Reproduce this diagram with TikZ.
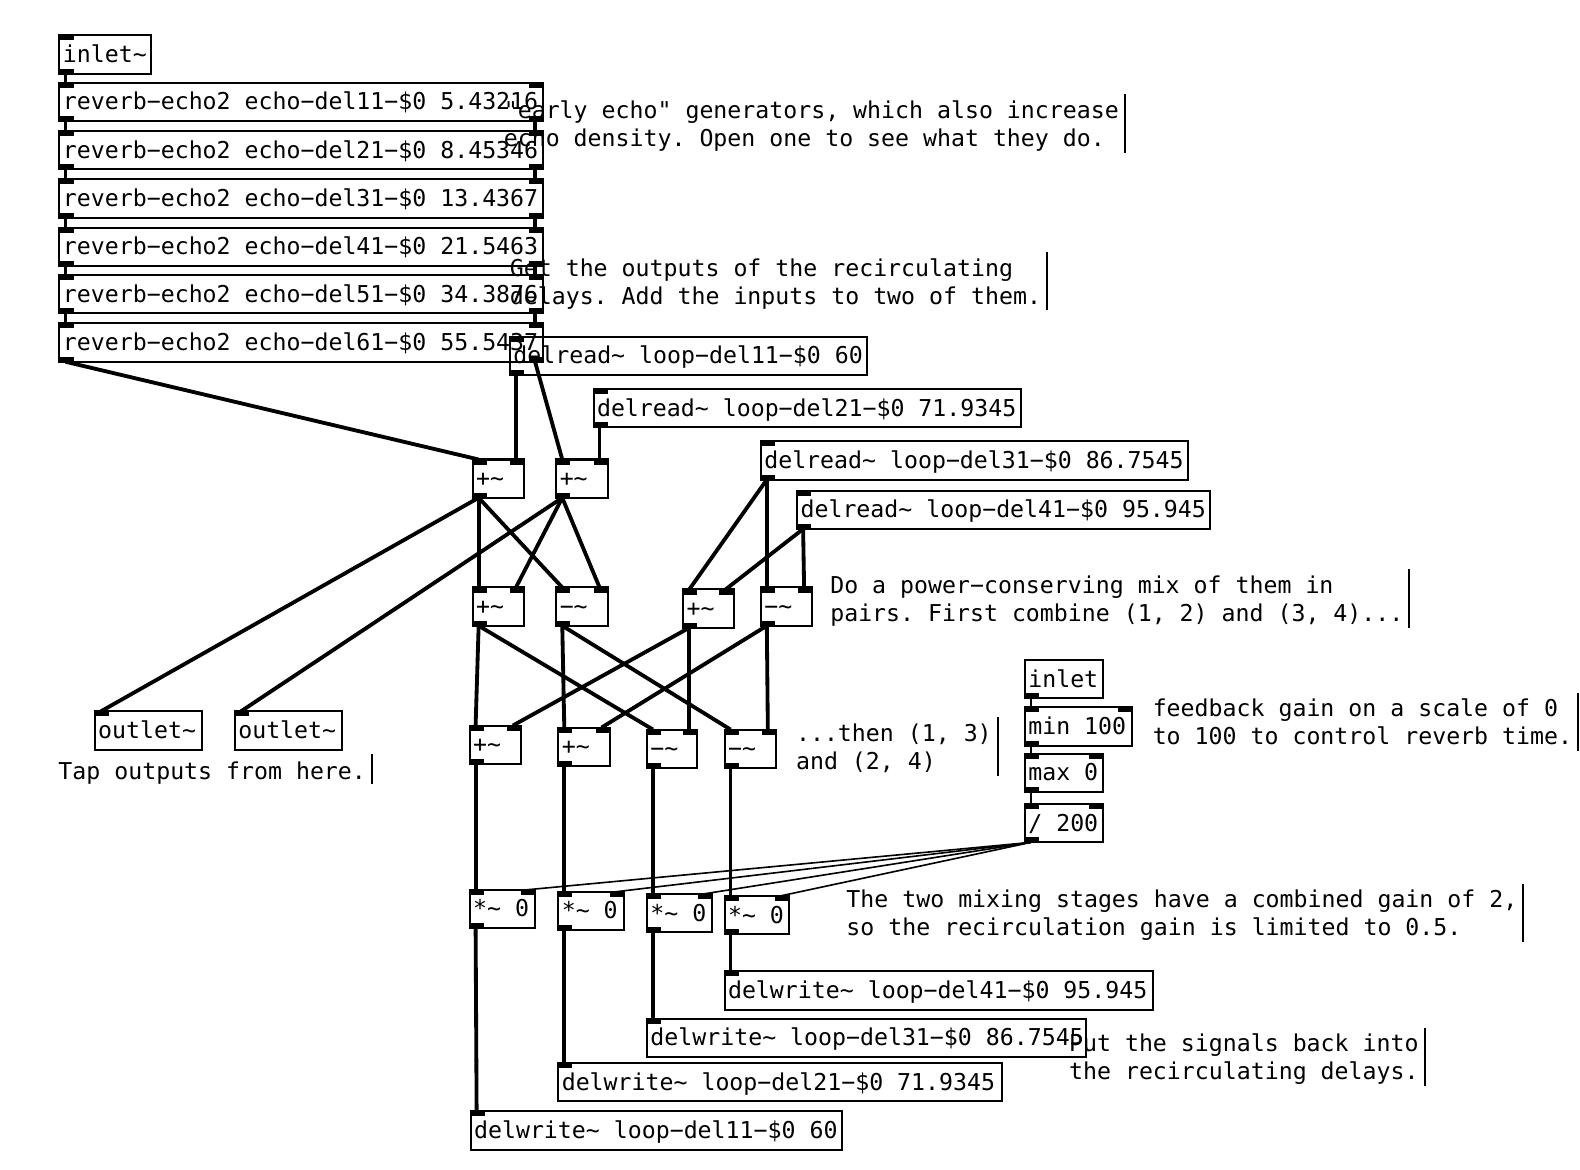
\documentclass[tikz,border=0pt]{standalone}
\usepackage{fontspec}
\setmonofont{DejaVu Sans Mono}
\usetikzlibrary{calc}
\newcommand{\tld}{\string~}
\newcommand{\cstrut}{\rule[-3pt]{0pt}{13.5pt}}
\tikzset{
 obj/.style={draw=black, line width=1pt, anchor=north west, outer sep=0pt, inner xsep=1.75pt, inner ysep=0pt, minimum height=19pt, text height=9pt, text depth=1pt, align=flush left},
 cmt/.style={anchor=west, outer sep=0pt, inner xsep=3pt, inner ysep=0pt, minimum height=29pt, align=left, execute at begin node=\cstrut, execute at end node=\cstrut},
 port/.style={fill=black},
 sig/.style={black, line width=1.9pt},
 msg/.style={black, line width=.8pt},
 bar/.style={black, line width=1pt}
}
\begin{document}
\begin{tikzpicture}[x=.5pt, y=-.5pt, font=\ttfamily\fontsize{11.52}{13.9}\selectfont\frenchspacing]
\useasboundingbox (0,0) rectangle (1568,1161);
% objects
\foreach \nm/\l/\t/\w/\txt in {
 insig/59/35/91/{inlet\tld},
 rev1/59/82/480/{reverb−echo2 echo−del11−\$0 5.43216},
 rev2/59/130/480/{reverb−echo2 echo−del21−\$0 8.45346},
 rev3/59/178/480/{reverb−echo2 echo−del31−\$0 13.4367},
 rev4/59/226/480/{reverb−echo2 echo−del41−\$0 21.5463},
 rev5/59/273/480/{reverb−echo2 echo−del51−\$0 34.3876},
 rev6/59/321/480/{reverb−echo2 echo−del61−\$0 55.5437},
 dread1/506/334/354/{delread\tld\ loop−del11−\$0 60},
 dread2/589/386/424/{delread\tld\ loop−del21−\$0 71.9345},
 dread3/755/438/424/{delread\tld\ loop−del31−\$0 86.7545},
 dread4/791/487/410/{delread\tld\ loop−del41−\$0 95.945},
 adda/469/456/51/{+\tld},
 addb/552/456/51/{+\tld},
 mixa/469/583/51/{+\tld},
 mixb/552/583/51/{−\tld},
 mixc/678/585/50/{+\tld},
 mixd/755/583/51/{−\tld},
 mixe/466/720/51/{+\tld},
 mixf/554/722/51/{+\tld},
 mixg/642/724/50/{−\tld},
 mixh/719/724/51/{−\tld},
 out1/94/706/106/{outlet\tld},
 out2/233/706/106/{outlet\tld},
 mula/466/883/65/{*\tld\ 0},
 mulb/554/885/65/{*\tld\ 0},
 mulc/642/887/65/{*\tld\ 0},
 muld/719/889/64/{*\tld\ 0},
 dwrite4/719/964/425/{delwrite\tld\ loop−del41−\$0 95.945},
 dwrite3/642/1011/436/{delwrite\tld\ loop−del31−\$0 86.7545},
 dwrite2/554/1055/440/{delwrite\tld\ loop−del21−\$0 71.9345},
 dwrite1/467/1103/369/{delwrite\tld\ loop−del11−\$0 60},
 fbin/1017/655/78/{inlet},
 fbmin/1017/702/106/{min 100},
 fbmax/1017/748/78/{max 0},
 fbdiv/1017/798/78/{/ 200}} {
 \node[obj, minimum width=\w*.5pt, text width={(\w-7)*.5pt}] (\nm) at (\l,\t) {\mbox{\txt}};
}
% ports
\foreach \nm in {insig,rev1,rev2,rev3,rev4,rev5,rev6,dread1,dread2,dread3,dread4,adda,addb,mixa,mixb,mixc,mixd,mixe,mixf,mixg,mixh,out1,out2,mula,mulb,mulc,muld,dwrite1,dwrite2,dwrite3,dwrite4,fbmin,fbmax,fbdiv} {
 \coordinate (\nm-i0) at ($(\nm.north west)+(6,0)$);
 \fill[port] ($(\nm.north west)+(-1,-1)$) rectangle ++(15,6);
}
\foreach \nm in {rev1,rev2,rev3,rev4,rev5,rev6,adda,addb,mixa,mixb,mixc,mixd,mixe,mixf,mixg,mixh,mula,mulb,mulc,muld,fbmin,fbmax,fbdiv} {
 \coordinate (\nm-i1) at ($(\nm.north east)+(-8,0)$);
 \fill[port] ($(\nm.north east)+(1,-1)$) rectangle ++(-15,6);
}
\foreach \nm in {insig,rev1,rev2,rev3,rev4,rev5,rev6,dread1,dread2,dread3,dread4,adda,addb,mixa,mixb,mixc,mixd,mixe,mixf,mixg,mixh,mula,mulb,mulc,muld,fbin,fbmin,fbmax,fbdiv} {
 \coordinate (\nm-o0) at ($(\nm.south west)+(6,0)$);
 \fill[port] ($(\nm.south west)+(-1,1)$) rectangle ++(15,-6);
}
\foreach \nm in {rev1,rev2,rev3,rev4,rev5,rev6} {
 \coordinate (\nm-o1) at ($(\nm.south east)+(-8,0)$);
 \fill[port] ($(\nm.south east)+(1,1)$) rectangle ++(-15,-6);
}
% connectors
\foreach \a/\b in {insig-o0/rev1-i0,rev1-o0/rev2-i0,rev2-o0/rev3-i0,rev3-o0/rev4-i0,rev4-o0/rev5-i0,rev5-o0/rev6-i0,
 rev1-o1/rev2-i1,rev2-o1/rev3-i1,rev3-o1/rev4-i1,rev4-o1/rev5-i1,rev5-o1/rev6-i1,
 rev6-o0/adda-i0,rev6-o1/addb-i0,dread1-o0/adda-i1,dread2-o0/addb-i1,
 adda-o0/mixa-i0,adda-o0/mixb-i0,adda-o0/out1-i0,addb-o0/mixa-i1,addb-o0/mixb-i1,addb-o0/out2-i0,
 dread3-o0/mixc-i0,dread3-o0/mixd-i0,dread4-o0/mixc-i1,dread4-o0/mixd-i1,
 mixa-o0/mixe-i0,mixa-o0/mixg-i0,mixb-o0/mixf-i0,mixb-o0/mixh-i0,
 mixc-o0/mixe-i1,mixc-o0/mixg-i1,mixd-o0/mixf-i1,mixd-o0/mixh-i1,
 mixe-o0/mula-i0,mixf-o0/mulb-i0,mixg-o0/mulc-i0,mixh-o0/muld-i0,
 mula-o0/dwrite1-i0,mulb-o0/dwrite2-i0,mulc-o0/dwrite3-i0,muld-o0/dwrite4-i0} {
 \draw[sig] (\a) -- (\b);
}
\foreach \a/\b in {fbin-o0/fbmin-i0,fbmin-o0/fbmax-i0,fbmax-o0/fbdiv-i0,
 fbdiv-o0/mula-i1,fbdiv-o0/mulb-i1,fbdiv-o0/mulc-i1,fbdiv-o0/muld-i1} {
 \draw[msg] (\a) -- (\b);
}
% comments
\node[cmt] (cecho) at (494,125.5) {"early echo" generators, which also increase\\echo density. Open one to see what they do.};
\node[cmt] (cread) at (500,282) {Get the outputs of the recirculating\\delays. Add the inputs to two of them.};
\node[cmt] (cpair) at (818,597) {Do a power−conserving mix of them in\\pairs. First combine (1, 2) and (3, 4)...};
\node[cmt] (cthen) at (784,744) {...then (1, 3)\\and (2, 4)};
\node[cmt] (cgain) at (1138,719.5) {feedback gain on a scale of 0\\to 100 to control reverb time.};
\node[cmt, minimum height=15pt] (ctap) at (52,766) {Tap outputs from here.};
\node[cmt] (cmix) at (834,909) {The two mixing stages have a combined gain of 2,\\so the recirculation gain is limited to 0.5.};
\node[cmt] (cback) at (1055,1052) {Put the signals back into\\the recirculating delays.};
\foreach \c in {cecho,cread,cpair,cthen,cgain,ctap,cmix,cback} {
 \draw[bar] ($(\c.north east)+(0,-3)$) -- ($(\c.south east)+(0,-3)$);
}
\end{tikzpicture}
\end{document}
